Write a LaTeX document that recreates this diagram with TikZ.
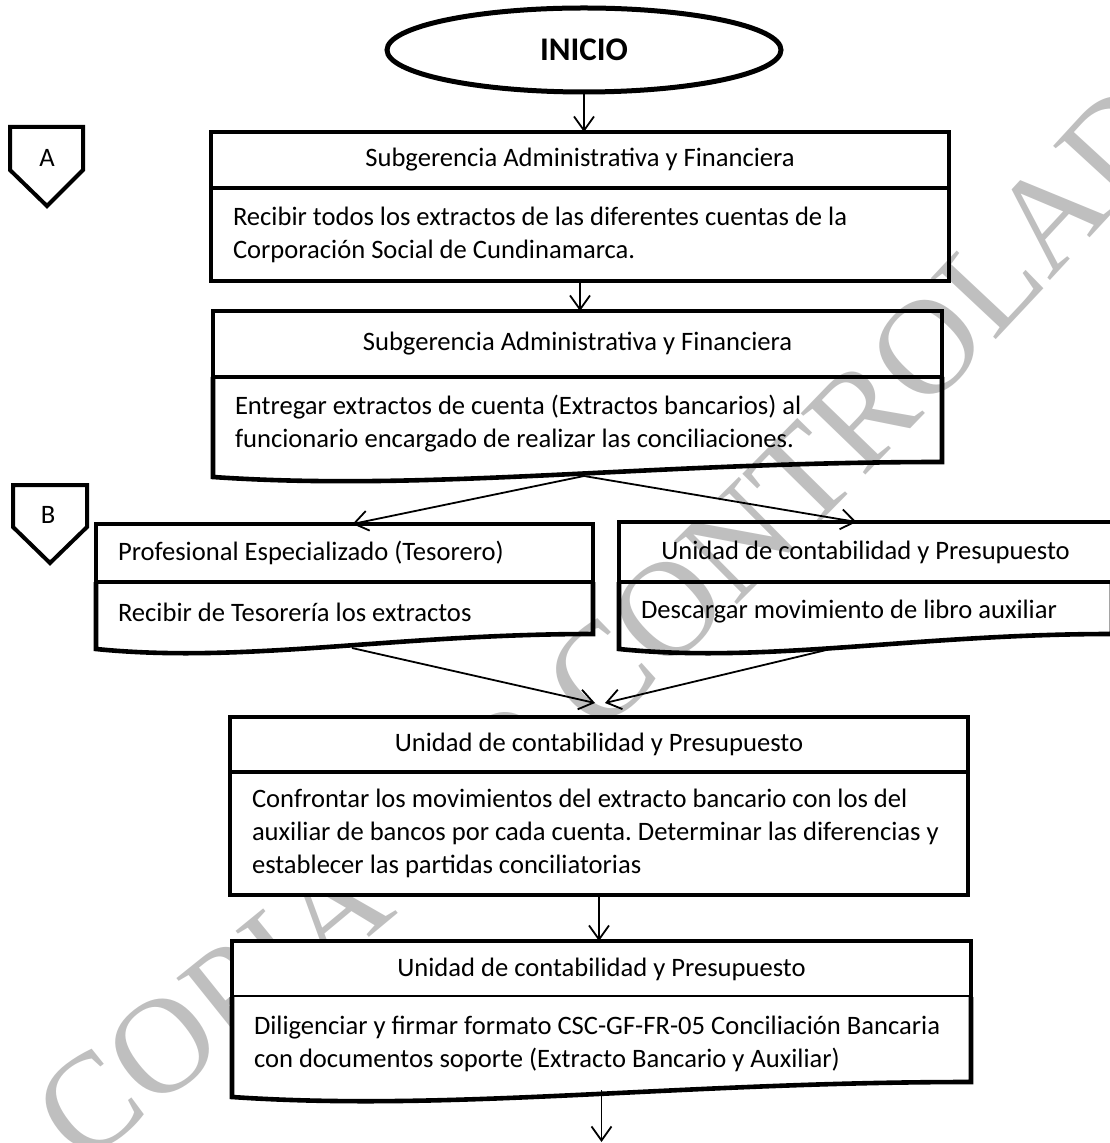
\documentclass[tikz,border=0pt]{standalone}
\usepackage{fontspec}
\setmainfont{Carlito}
\newfontfamily\wmfont{Liberation Serif}
\usetikzlibrary{arrows.meta,positioning,shapes.geometric,calc,decorations.text}
\frenchspacing
\tikzset{
  boxline/.style={line width=2.3pt},
  hdr/.style={boxline,draw,rectangle,inner sep=0pt,outer sep=0pt,anchor=north west,font=\fontsize{13.3}{16.5}\selectfont},
  body/.style={boxline,rectangle,inner xsep=11pt,inner ysep=0pt,outer sep=0pt,align=flush left,font=\fontsize{13.3}{16.5}\selectfont},
  arr/.style={line width=0.9pt,-{Straight Barb[length=7pt,width=10pt]}},
  offpage/.style={line width=2pt},
  tag/.style={font=\fontsize{13.3}{16.5}\selectfont},
}
\newcommand\docbottom[1]{%
  \draw[boxline] (#1.north west) -- ([yshift=-3.5pt]#1.south west)
    .. controls ($(#1.south west)!0.3!(#1.south east)+(0,-11pt)$)
    and ($(#1.south west)!0.6!(#1.south east)+(0,4pt)$)
    .. ([yshift=4pt]#1.south east) -- (#1.north east);}
\begin{document}
\begin{tikzpicture}[x=0.5pt,y=-0.5pt]
\useasboundingbox (0,0) rectangle (1109,1143);
\path[decorate,decoration={text along path,text align=left,text color=black!25,
  text={|\wmfont\fontsize{68}{68}\selectfont|COPIA NO CONTROLADA}}]
  (80,1167) .. controls (560,800) and (800,560) .. (1290,20);

\node[ellipse,draw,fill=white,line width=2.5pt,minimum width=197pt,minimum height=42pt,
  font=\bfseries\fontsize{16.5}{19}\selectfont] (ini) at (584,50) {INICIO};

\draw[offpage] (10,127) -- (83,127) -- (83,170) -- (47,206) -- (10,170) -- cycle;
\node[tag] (conA) at (47,158) {A};
\draw[offpage] (13,485) -- (87,485) -- (87,527) -- (50,563) -- (13,527) -- cycle;
\node[tag] (conB) at (48,515) {B};

\node[hdr,minimum width=369pt,minimum height=28pt] (s1h) at (211,132) {Subgerencia Administrativa y Financiera};
\node[body,draw,text width=347pt,minimum height=46.5pt,below=0pt of s1h] (s1b)
  {Recibir todos los extractos de las diferentes cuentas de la\\Corporación Social de Cundinamarca.};

\node[hdr,minimum width=364.5pt,minimum height=33pt] (s2h) at (213,311) {Subgerencia Administrativa y Financiera};
\node[body,text width=342.5pt,minimum height=46.5pt,below=0pt of s2h] (s2b)
  {Entregar extractos de cuenta (Extractos bancarios) al\\funcionario encargado de realizar las conciliaciones.};
\docbottom{s2b}

\node[hdr,inner xsep=11pt,text width=226.5pt,align=flush left,minimum height=29pt] (ph) at (96,524) {Profesional Especializado (Tesorero)};
\node[body,text width=226.5pt,minimum height=30pt,below=0pt of ph] (pb) {Recibir de Tesorería los extractos};
\docbottom{pb}

\node[hdr,minimum width=246.5pt,minimum height=30pt] (uh) at (619,522) {Unidad de contabilidad y Presupuesto};
\node[body,text width=224.5pt,minimum height=30pt,below=0pt of uh] (ub) {Descargar movimiento de libro auxiliar};
\docbottom{ub}

\node[hdr,fill=white,minimum width=369pt,minimum height=27.5pt] (ch) at (230,717) {Unidad de contabilidad y Presupuesto};
\node[body,draw,fill=white,text width=347pt,minimum height=61.5pt,below=0pt of ch] (cb)
  {Confrontar los movimientos del extracto bancario con los del\\auxiliar de bancos por cada cuenta. Determinar las diferencias y\\establecer las partidas conciliatorias};

\node[hdr,fill=white,minimum width=369.5pt,minimum height=28pt] (dh) at (232,941) {Unidad de contabilidad y Presupuesto};
\node[body,fill=white,text width=347.5pt,minimum height=46.5pt,below=0pt of dh] (db)
  {Diligenciar y firmar formato CSC-GF-FR-05 Conciliación Bancaria\\con documentos soporte (Extracto Bancario y Auxiliar)};
\docbottom{db}

\coordinate (s2out) at (584,476);
\coordinate (pout) at (352,648);
\coordinate (uout) at (843,646);
\coordinate (fin) at (601.5,1142);

\draw[arr] (ini.south) -- (ini.south |- s1h.north);
\draw[arr] (s1b.south) -- (s1b.south |- s2h.north);
\draw[arr] (s2out) -- ([xshift=4pt]ph.north);
\draw[arr] (s2out) -- ([xshift=-4.5pt]uh.north);
\draw[arr] (pout) -- ([xshift=-2pt,yshift=7pt]ch.north);
\draw[arr] (uout) -- ([xshift=3pt,yshift=7pt]ch.north);
\draw[arr] (cb.south) -- (cb.south |- dh.north);
\draw[arr] (db.south) -- (fin);
\end{tikzpicture}
\end{document}
